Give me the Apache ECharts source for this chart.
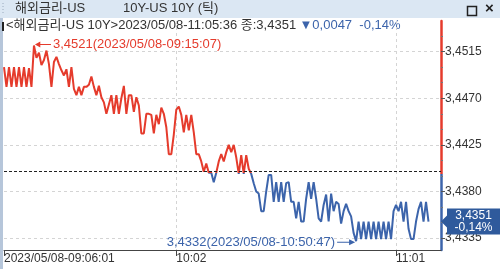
<!DOCTYPE html>
<html><head><meta charset="utf-8">
<script src="https://cdn.jsdelivr.net/npm/echarts@6/dist/echarts.min.js"></script>
<style>html,body{margin:0;padding:0;background:#fff;overflow:hidden}#c{width:500px;height:269px}</style>
</head><body><div id="c"></div>
<script>
// ---- data ----
const windowTitle = '해외금리-US';
const windowSubtitle = '10Y-US 10Y (틱)';
const instrument = '<해외금리-US 10Y>';
const lastTime = '2023/05/08-11:05:36';
const maxTime = '2023/05/08-09:15:07';
const minTime = '2023/05/08-10:50:47';
const prevClose = 3.4398;
const tickCount = 176;
const xLabelIndex = [0, 69, 157];
const xLabelText = ['2023/05/08-09:06:01', '10:02', '11:01'];
const yTickValues = [3.4335, 3.4380, 3.4425, 3.4470, 3.4515];
const yMinorValues = [3.4350, 3.4365, 3.4395, 3.4410, 3.4440, 3.4455, 3.4485, 3.4500, 3.4530];
const yMin = 3.43235, yMax = 3.45446;
const values = [
  3.4500,3.4481,3.4500,3.4481,3.4500,3.4481,3.4500,3.4481,3.4500,3.4481,3.4499,3.4481,
  3.4521,3.4509,3.4514,3.4502,3.4507,3.4516,3.4503,3.4481,3.4505,3.4510,
  3.4503,3.4497,3.4492,3.4498,3.4481,3.4500,3.4479,3.4473,3.4481,3.4473,
  3.4481,3.4481,3.4483,3.4491,3.4481,3.4473,3.4482,3.4471,3.4466,3.4455,
  3.4464,3.4473,3.4455,3.4473,3.4455,3.4470,3.4482,
  3.4455,3.4473,3.4473,3.4457,3.4471,3.4463,3.4436,3.4436,3.4455,3.4455,
  3.4454,3.4436,3.4454,3.4445,3.4461,3.4455,3.4442,3.4416,3.4416,3.4435,
  3.4459,3.4462,3.4454,3.4437,3.4454,3.4439,3.4454,3.4437,3.4416,3.4416,
  3.4409,3.4399,3.4407,3.4398,3.4398,3.4389,3.4398,3.4409,3.4416,3.4409,
  3.4418,
  3.4425,3.4418,3.4425,3.4413,3.4397,3.4415,3.4397,3.4415,3.4402,3.4397,
  3.4388,3.4380,3.4378,3.4361,3.4361,3.4380,3.4396,3.4396,3.4370,3.4389,
  3.4370,3.4389,3.4370,3.4388,3.4389,3.4370,3.4370,3.4354,3.4370,3.4351,
  3.4351,3.4373,3.4389,3.4373,3.4389,3.4373,3.4354,3.4351,3.4367,3.4377,
  3.4351,3.4378,
  3.4361,3.4370,3.4368,3.4349,3.4361,3.4368,3.4361,3.4356,3.4340,3.4332,
  3.4351,3.4334,3.4351,3.4334,3.4351,3.4334,3.4351,3.4334,3.4351,3.4334,
  3.4351,3.4334,3.4351,3.4334,3.4361,3.4367,3.4361,3.4370,3.4351,3.4370,
  3.4344,3.4334,3.4334,3.4351,3.4363,3.4370,3.4351,3.4370,3.4351
];
// ---- styles ----
const RED = '#e53b2c', BLUE = '#3c64ab', TXT = '#333333';
const LAT = '"Liberation Sans", "Noto Sans CJK KR", sans-serif';
const fmt = v => v.toFixed(4).replace('.', ',');
const categories = Array.from({length: tickCount}, (_, i) => String(i));
const lastIndex = values.length - 1;
const last = values[lastIndex];
const change = prevClose - last;
const pct = (last - prevClose) / prevClose * 100;
const pctText = (pct < 0 ? '-' : '') + Math.abs(pct).toFixed(2).replace('.', ',') + '%';
const ratio = (yMax - prevClose) / (yMax - yMin);

const chart = echarts.init(document.getElementById('c'), null, {renderer: 'canvas'});
chart.setOption({
  animation: false,
  backgroundColor: '#fff',
  grid: {left: 4, right: 59, top: 21, bottom: 19, containLabel: false},
  xAxis: {
    type: 'category', data: categories, boundaryGap: false,
    axisLine: {show: true, lineStyle: {color: '#444', width: 1}},
    axisTick: {show: true, length: 6, interval: i => xLabelIndex.includes(i), lineStyle: {color: '#444'}},
    axisLabel: {
      show: true, interval: i => xLabelIndex.includes(i),
      formatter: (v, i) => { const k = xLabelIndex.indexOf(Number(v)); return k >= 0 ? xLabelText[k] : ''; },
      align: 'left', margin: 3, color: TXT, fontSize: 12, fontFamily: LAT
    },
    splitLine: {show: true, interval: i => i > 0 && xLabelIndex.includes(i), lineStyle: {type: [3, 3], color: '#d4d4d4'}}
  },
  yAxis: [{
    type: 'value', position: 'right', min: yMin, max: yMax,
    axisLine: {show: true, lineStyle: {width: 2.5, color: new echarts.graphic.LinearGradient(0, 0, 0, 1, [
      {offset: 0, color: RED}, {offset: ratio, color: RED}, {offset: ratio, color: BLUE}, {offset: 1, color: BLUE}])}},
    axisTick: {show: true, length: 4, customValues: yTickValues, lineStyle: {color: '#555'}},
    axisLabel: {show: true, customValues: yTickValues, formatter: v => fmt(v), margin: 4, color: TXT, fontSize: 12, fontFamily: LAT},
    splitLine: {show: true, lineStyle: {type: [3, 3], color: '#d4d4d4'}}
  }, {
    type: 'value', position: 'right', min: yMin, max: yMax,
    axisLine: {show: false},
    axisTick: {show: true, length: 2, customValues: yMinorValues, lineStyle: {color: '#777'}},
    axisLabel: {show: false},
    splitLine: {show: false}
  }],
  visualMap: {
    show: false, type: 'piecewise', dimension: 1, seriesIndex: 0,
    pieces: [{gte: 3.40, lte: prevClose, color: BLUE}, {gt: prevClose, lte: 3.50, color: RED}],
    outOfRange: {color: BLUE}
  },
  series: [{
    type: 'line', data: values, symbol: 'none', yAxisIndex: 0, clip: false,
    lineStyle: {width: 2},
    markLine: {
      silent: true, symbol: 'none', label: {show: false},
      data: [{yAxis: prevClose}],
      lineStyle: {type: [3, 2], color: '#222', width: 1}
    },
    markPoint: {
      silent: true,
      data: [
        {type: 'max', symbol: 'path://M0,3L6,0L6,2.5L18,2.5L18,3.5L6,3.5L6,6Z', symbolSize: [16, 6], symbolOffset: [9, -1],
          itemStyle: {color: RED},
          label: {show: true, position: 'right', distance: 2, color: RED, fontSize: 13, fontFamily: LAT,
            formatter: p => fmt(p.value) + '(' + maxTime + ')'}},
        {type: 'min', symbol: 'path://M18,3L12,0L12,2.5L0,2.5L0,3.5L12,3.5L12,6Z', symbolSize: [18, 6], symbolOffset: [-10, 1],
          itemStyle: {color: BLUE},
          label: {show: true, position: 'left', distance: 2, color: BLUE, fontSize: 13, fontFamily: LAT,
            formatter: p => fmt(p.value) + '(' + minTime + ')'}},
        {coord: [String(lastIndex), last], value: last,
          symbol: 'path://M0,13L6,7L6,0L59,0L59,26L6,26L6,19Z', symbolSize: [59, 26], symbolOffset: [42, 0],
          itemStyle: {color: '#2f5a9c'},
          label: {show: true, position: 'inside', offset: [3, 0],
            formatter: () => '{a|' + fmt(last) + '}\n{a|' + pctText + '}',
            rich: {a: {width: 50, align: 'center', color: '#fff', fontSize: 12, lineHeight: 12, fontFamily: LAT}}}}
      ]
    }
  }],
  graphic: [
    {type: 'rect', left: 0, top: 0, shape: {width: 500, height: 18}, style: {fill: '#dbe7f3'}, silent: true},
    {type: 'rect', left: 0, top: 18, shape: {width: 3, height: 251}, style: {fill: '#b6c6da'}, silent: true},
    {type: 'line', shape: {x1: 3, y1: 3, x2: 3, y2: 15}, style: {stroke: '#9aaabd', lineWidth: 1, lineDash: [1, 2]}, silent: true},
    {type: 'text', left: 15, top: 2, style: {text: windowTitle, font: '13px ' + LAT, fill: TXT}},
    {type: 'text', left: 123, top: 2, style: {text: windowSubtitle, font: '13px ' + LAT, fill: TXT}},
    {type: 'rect', left: 465, top: 4, shape: {width: 9, height: 9}, style: {fill: 'none', stroke: '#222', lineWidth: 1.5}, silent: true},
    {type: 'text', left: 485, top: 1, style: {text: '×', font: 'bold 15px ' + LAT, fill: '#222'}},
    {type: 'rect', left: 2, top: 22, shape: {width: 2, height: 9}, style: {fill: '#222'}, silent: true},
    {type: 'text', left: 6, top: 19, style: {
      text: '{a|' + instrument + lastTime + ' 종:' + fmt(last) + '} {b|▼' + fmt(change) + '  ' + pctText + '}',
      rich: {a: {font: '13px ' + LAT, fill: TXT}, b: {font: '13px ' + LAT, fill: BLUE}}
    }}
  ]
});
</script></body></html>
